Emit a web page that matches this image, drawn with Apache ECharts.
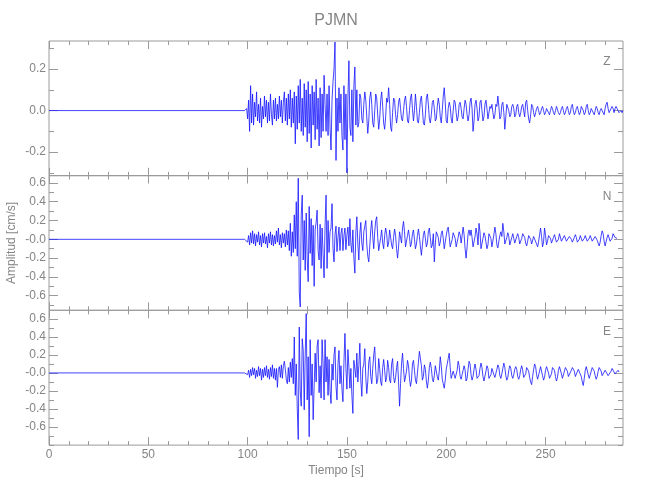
<!DOCTYPE html>
<html><head><meta charset="utf-8">
<script src="https://cdn.jsdelivr.net/npm/echarts@6/dist/echarts.min.js"></script>
<style>html,body{margin:0;padding:0;background:#fff}#c{width:650px;height:500px}</style>
</head><body><div id="c"></div>
<script>
// ---------------- data ----------------
const stationName = 'PJMN';
const componentNames = ['Z', 'N', 'E'];
const xTitle = 'Tiempo [s]';
const yTitle = 'Amplitud [cm/s]';
// pre-event (quiet) part of every trace
const quietTimes = [0, 98.5];
const quietValues = [0, 0];
// samples below start at T_START and are T_STEP seconds apart; units: 0.01 cm/s
const T_START = 99, T_STEP = 0.5;
const zValues = [
 0,1,-4,5,-10,12,-6,8,-7,4,
 -3,9,-5,3,-6,6,-8,2,-4,7,
 -3,5,-6,4,-5,8,-2,-7,5,-4,
 6,-5,3,-4,7,-3,5,-6,4,9,
 -5,6,-7,8,-4,10,-8,6,-6,9,
 -16,7,-9,12,-6,15,-10,6,-12,13,
 -8,10,-15,14,-11,8,-18,12,-7,9,
 -14,15,-9,6,-17,11,-13,8,-10,17,
 3,-10,8,-12,12,-8,-19,5,14,20,
 33,-24,6,-10,11,-6,8,-12,-19,12,
 -14,8,-30,6,24,-8,-12,10,-15,12,
 21,-7,10,-8,-6,8,6,-4,-6,3,
 9,5,-3,-11,-5,6,9,3,-6,-8,
 0,8,6,-2,-9,-4,5,9,2,-6,
 -9,-3,6,4,11,3,-8,-10,-1,6,
 5,-2,-6,-2,4,6,1,-4,-5,0,
 5,7,2,-5,-6,0,6,8,1,-5,
 0,8,2,-5,-6,-1,5,7,1,-6,
 -7,-2,6,8,3,-4,-6,-2,4,5,
 1,-5,-4,2,6,3,-3,-6,0,7,
 11,4,-5,-6,1,4,2,-4,-6,0,
 5,4,-1,-5,-3,3,4,1,-3,-4,
 1,5,3,-2,-5,-2,4,6,1,-10,
 -5,3,5,1,-5,-3,4,5,0,-5,
 -3,3,5,1,-4,-4,2,1,3,-1,
 -4,-2,3,2,7,2,-4,-3,3,4,
 -1,-9,-3,3,3,0,-3,-2,2,3,
 1,-3,-2,2,3,-1,-3,-1,2,3,
 0,-3,4,5,0,-4,-6,-2,3,2,
 -1,-3,-1,1,2,0,-2,-1,1,2,
 0,-2,-1,1,1,-1,-2,0,2,1,
 -1,-2,0,2,2,-1,-2,-1,1,2,
 0,-2,-1,1,2,0,-2,-1,2,3,
 0,-2,-1,1,2,0,-2,-1,2,2,
 0,-2,-1,2,3,0,-2,-1,1,1,
 -1,-2,0,2,1,-1,-2,0,1,1,
 -1,-2,1,3,4,1,-1,-1,1,2,
 1,-1,1,2,1,0,-1,-1,0,-1,
 0
];
const nValues = [
 0,1,-3,4,-6,7,-4,9,-5,6,
 -7,5,-3,8,-6,4,-8,6,-4,7,
 -5,3,-9,6,-4,8,-6,5,-7,4,
 -5,9,-3,12,-6,5,-9,7,-4,6,
 -8,10,-6,9,-12,17,-18,8,-14,26,
 -10,40,-18,65,-56,-72,26,47,-22,20,
 -33,28,-20,-45,35,-15,22,-28,15,-50,
 10,18,31,-12,-22,16,-31,12,-15,-41,
 15,47,-31,20,-14,8,12,38,-10,-24,
 5,14,-13,2,13,-12,6,12,-12,4,
 12,-11,5,13,-7,22,-5,-14,10,-20,
 -36,8,24,-5,-22,6,18,-4,-12,8,
 14,20,-5,-18,-24,-8,10,20,3,-10,
 8,20,24,2,-12,-11,2,10,-4,-10,
 4,12,6,-8,-4,10,8,-6,-10,2,
 11,4,-10,-20,-8,8,6,-4,12,19,
 8,-8,-6,4,10,2,-8,-4,6,10,
 0,-10,-5,4,11,3,-8,-17,-6,5,
 9,1,-8,-4,8,12,2,-9,-6,6,
 -24,-5,8,10,2,-7,-3,6,9,1,
 -10,-8,4,10,13,3,-8,-10,0,7,
 6,1,-8,-8,2,8,5,-4,4,13,
 5,-10,-20,-8,6,10,4,10,2,-8,
 -9,3,12,6,-6,17,8,-10,-11,1,
 7,4,-3,-10,-6,6,8,1,-8,-6,
 5,13,6,-6,-9,-2,4,8,3,17,
 8,-5,-4,2,7,3,-6,-7,2,6,
 1,-4,-3,3,6,2,-5,-6,1,6,
 7,2,-4,-7,-2,4,5,0,-5,-4,
 3,5,1,-5,-8,-3,5,12,3,-8,
 -3,12,4,-6,-2,4,6,1,-4,-3,
 2,5,3,-3,-5,0,6,4,-2,-4,
 0,4,3,-2,-4,-1,3,4,0,-3,
 -2,2,5,2,-3,-4,0,4,3,-2,
 -3,1,4,2,-2,-3,1,4,2,-2,
 -3,0,3,3,-1,-4,-7,-3,4,9,
 6,-2,-7,-5,2,5,3,-2,-4,1,
 6,4,2,0,1
];
const eValues = [
 0,1,-2,3,-5,4,-3,6,-2,5,
 -6,3,-4,7,-3,5,-8,4,-5,6,
 -3,8,-5,4,-7,6,-4,9,-6,5,
 -8,5,-16,4,7,-5,9,-6,8,13,
 4,-8,-12,6,-10,12,-5,16,-12,40,
 -25,10,-40,-74,51,-20,-37,38,25,-41,
 20,66,-30,18,-71,37,-25,10,-52,-15,
 22,-10,30,37,-22,8,-28,37,10,-30,
 37,-10,18,-25,15,-20,-34,10,-8,20,
 29,-15,-30,10,25,-12,8,-18,-32,12,
 44,5,-18,26,6,-17,5,-25,-45,14,
 15,-5,22,-10,8,33,-8,-26,5,10,
 27,-5,-23,-10,12,18,-4,-12,5,20,
 29,3,-12,-8,16,5,-10,-14,6,15,
 3,-10,-5,14,6,-8,-11,10,16,-4,
 -11,-5,6,13,-10,-37,-12,10,22,5,
 -10,-12,2,14,8,-6,-15,-8,10,14,
 3,-8,-12,0,12,24,26,8,-8,-4,
 9,4,-9,-17,-8,6,12,5,-6,-10,
 -3,8,7,-4,-8,2,18,8,-7,-12,
 -17,-8,4,10,16,22,6,-6,-6,2,
 1,-6,-5,3,13,8,-4,-7,-2,3,
 8,3,-9,-6,4,13,10,-2,-8,-4,
 4,10,4,-6,-8,-3,5,11,6,-4,
 -9,-7,2,8,5,-6,-8,-2,5,5,
 -2,-5,-3,4,9,6,-3,-6,-1,5,
 11,6,-3,-8,-5,3,8,5,-3,-6,
 -2,4,7,4,-4,-7,-3,4,8,3,
 -5,-7,-1,6,8,2,-5,-10,-13,-4,
 4,10,7,-2,-7,-6,2,7,6,-3,
 -8,-5,3,7,7,0,-6,-7,-1,6,
 7,3,-4,-9,-5,3,7,6,-1,-6,
 -5,2,6,7,2,-4,-6,-3,3,6,
 7,2,-4,-6,-2,4,6,3,-4,-10,
 -14,-6,3,7,5,-2,-6,-4,2,6,
 7,2,-3,-7,-4,2,6,7,2,-3,
 -4,-1,3,5,2,-3,-5,-2,2,5,
 7,3,-1,-3,0,3,1
];
const VALUE_UNIT = 0.01; // cm/s per stored unit
const traces = [zValues, nValues, eValues];

// axes
const xRange = [0, 289];
const xTickValues = [0, 50, 100, 150, 200, 250];
const xTickLabels = ['0', '50', '100', '150', '200', '250'];
const xMinorStep = 10;
const yRanges = [[-0.314, 0.335], [-0.755, 0.679], [-0.803, 0.697]];
const yTickValues = [
  [-0.2, 0, 0.2],
  [-0.6, -0.4, -0.2, 0, 0.2, 0.4, 0.6],
  [-0.6, -0.4, -0.2, 0, 0.2, 0.4, 0.6]
];
const yTickLabels = [
  ['-0.2', '0.0', '0.2'],
  ['-0.6', '-0.4', '-0.2', '-0.0', '0.2', '0.4', '0.6'],
  ['-0.6', '-0.4', '-0.2', '-0.0', '0.2', '0.4', '0.6']
];
const yMinorStep = 0.1;

// ---------------- layout / style ----------------
const FONT = "'Liberation Sans',Arial,sans-serif";
const FS = 12;
const TXT = '#858585';
const FRAME = '#9a9a9a';
const LINE = '#1414ff';
const gridLeft = 49, gridWidth = 574;
const gridTops = [41, 175.5, 310.3];
const gridH = 134.8;

function range(a, b, step) {
  const out = [];
  for (let v = a; v <= b + 1e-9; v += step) out.push(Math.round(v * 1000) / 1000);
  return out;
}
const xMinor = range(xRange[0], xRange[1], xMinorStep);

const grids = [], xAxes = [], yAxes = [], series = [];
for (let g = 0; g < 3; g++) {
  grids.push({ left: gridLeft, width: gridWidth, top: gridTops[g], height: gridH,
    show: true, borderColor: FRAME, borderWidth: 1, backgroundColor: 'transparent' });
  const baseX = { gridIndex: g, type: 'value', min: xRange[0], max: xRange[1],
    axisLine: { show: false, onZero: false }, splitLine: { show: false } };
  ['bottom', 'top'].forEach(pos => {
    xAxes.push(Object.assign({}, baseX, { position: pos,
      axisTick: { show: true, inside: true, length: 4, customValues: xMinor, lineStyle: { color: FRAME } },
      axisLabel: (pos === 'bottom' && g === 2) ? {
        show: true, customValues: xTickValues, margin: 4, color: TXT, fontSize: FS, fontFamily: FONT,
        formatter: v => xTickLabels[xTickValues.indexOf(v)] } : { show: false } }));
    xAxes.push(Object.assign({}, baseX, { position: pos,
      axisTick: { show: true, inside: true, length: 8, customValues: xTickValues, lineStyle: { color: FRAME } },
      axisLabel: { show: false } }));
  });
  const [ymin, ymax] = yRanges[g];
  const yMinor = range(Math.ceil(ymin / yMinorStep - 1e-6) * yMinorStep, ymax, yMinorStep);
  const baseY = { gridIndex: g, type: 'value', min: ymin, max: ymax,
    axisLine: { show: false, onZero: false }, splitLine: { show: false } };
  ['left', 'right'].forEach(pos => {
    yAxes.push(Object.assign({}, baseY, { position: pos,
      axisTick: { show: true, inside: true, length: 9, customValues: yTickValues[g], lineStyle: { color: FRAME } },
      axisLabel: pos === 'left' ? {
        show: true, customValues: yTickValues[g], margin: 3, color: TXT, fontSize: FS, fontFamily: FONT,
        formatter: v => {
          let best = 0;
          yTickValues[g].forEach((t, i) => { if (Math.abs(t - v) < Math.abs(yTickValues[g][best] - v)) best = i; });
          return yTickLabels[g][best];
        } } : { show: false } }));
    yAxes.push(Object.assign({}, baseY, { position: pos,
      axisTick: { show: true, inside: true, length: 5, customValues: yMinor, lineStyle: { color: FRAME } },
      axisLabel: { show: false } }));
  });
  const data = quietTimes.map((t, i) => [t, quietValues[i]]);
  traces[g].forEach((v, i) => data.push([T_START + i * T_STEP, v * VALUE_UNIT]));
  series.push({ type: 'line', xAxisIndex: g * 4, yAxisIndex: g * 4, data,
    showSymbol: false, symbol: 'none', sampling: null, silent: true, animation: false,
    lineStyle: { color: LINE, width: 0.8 } });
}

const graphics = [
  { type: 'text', x: gridLeft + gridWidth / 2, y: 21,
    style: { text: stationName, fill: TXT, font: '16px ' + FONT, align: 'center', verticalAlign: 'middle' } },
  { type: 'text', x: gridLeft + gridWidth / 2, y: 471,
    style: { text: xTitle, fill: TXT, font: FS + 'px ' + FONT, align: 'center', verticalAlign: 'middle' } },
  { type: 'text', x: 12, y: gridTops[1] + gridH / 2, rotation: Math.PI / 2,
    style: { text: yTitle, fill: TXT, font: FS + 'px ' + FONT, align: 'center', verticalAlign: 'middle' } }
];
componentNames.forEach((c, g) => graphics.push({ type: 'text', x: 607, y: gridTops[g] + 21,
  style: { text: c, fill: TXT, font: FS + 'px ' + FONT, align: 'center', verticalAlign: 'middle' } }));

const chart = echarts.init(document.getElementById('c'), null, { renderer: 'canvas' });
chart.setOption({ animation: false, backgroundColor: '#fff',
  grid: grids, xAxis: xAxes, yAxis: yAxes, series, graphic: graphics });
</script></body></html>
